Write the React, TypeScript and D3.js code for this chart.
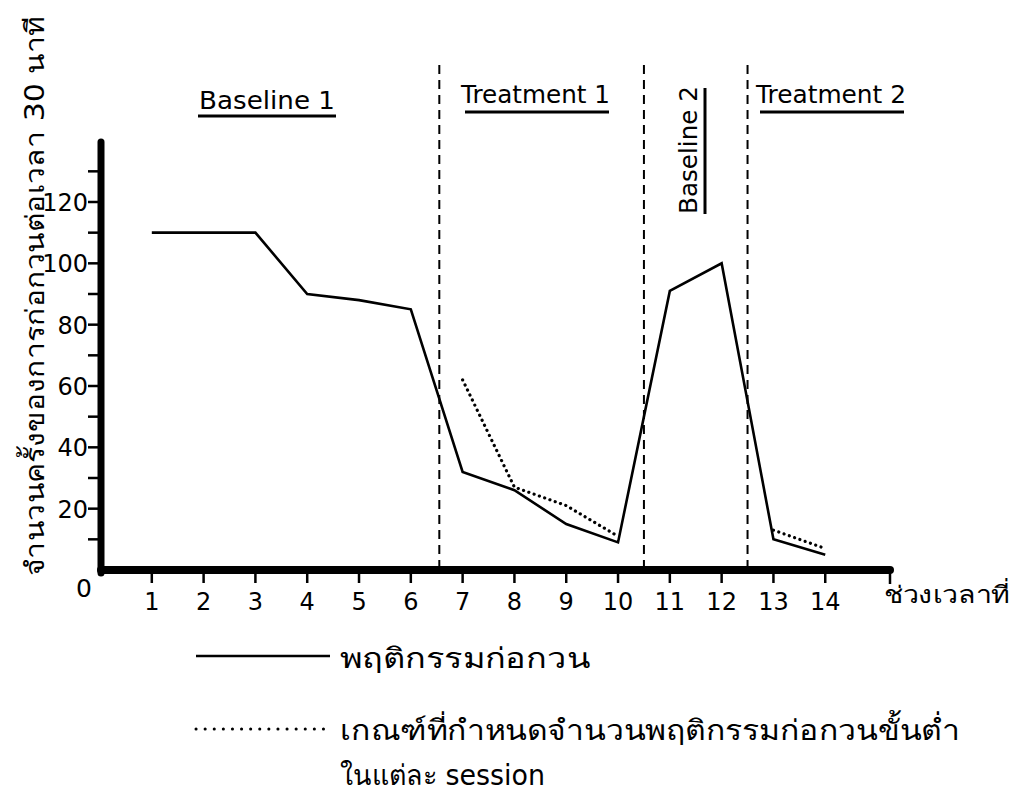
import React from "react";
import * as d3 from "d3";

const sessions = [1, 2, 3, 4, 5, 6, 7, 8, 9, 10, 11, 12, 13, 14];
const behaviour = [110, 110, 110, 90, 88, 85, 32, 26, 15, 9, 91, 100, 10, 5];
const criterionT1Sessions = [7, 8, 9, 10];
const criterionT1 = [62, 27, 21, 11];
const criterionT2Sessions = [13, 14];
const criterionT2 = [13, 7];
const yTicksMajor = [20, 40, 60, 80, 100, 120];
const yTicksMinor = [10, 20, 30, 40, 50, 60, 70, 80, 90, 100, 110, 120, 130];
const phaseBoundaries = [6.55, 10.5, 12.5];
const phaseLabels = ["Baseline 1", "Treatment 1", "Baseline 2", "Treatment 2"];

const W = 1011;
const H = 799;

export default function App() {
  const x = d3.scaleLinear().domain([0, 15.25]).range([100, 890]);
  const y = d3.scaleLinear().domain([0, 120]).range([570, 202]);
  const line = d3
    .line<[number, number]>()
    .x((d) => x(d[0]))
    .y((d) => y(d[1]));
  const solidPts: [number, number][] = sessions.map((s, i) => [s, behaviour[i]]);
  const dot1: [number, number][] = criterionT1Sessions.map((s, i) => [s, criterionT1[i]]);
  const dot2: [number, number][] = criterionT2Sessions.map((s, i) => [s, criterionT2[i]]);
  const font = "'DejaVu Sans', 'Noto Sans', sans-serif";

  return (
    <svg width={W} height={H} style={{ position: "absolute", left: 0, top: 0, background: "#fff" }}>
      <rect x={0} y={0} width={W} height={H} fill="#fff" />
      {/* y axis label */}
      <text
        transform={`translate(44,296) rotate(-90)`}
        textAnchor="middle"
        fontFamily={font}
        fontSize={26}
        textLength={560}
        lengthAdjust="spacingAndGlyphs"
        fill="#000"
      >
        จำนวนครั้งของการก่อกวนต่อเวลา 30 นาที
      </text>

      {/* phase boundaries */}
      {phaseBoundaries.map((b, i) => (
        <line key={i} x1={x(b)} x2={x(b)} y1={65} y2={570} stroke="#000" strokeWidth={2} strokeDasharray="9,6" />
      ))}

      {/* phase labels */}
      <text x={199} y={109} fontFamily={font} fontSize={25} textLength={136} lengthAdjust="spacingAndGlyphs" fill="#000">
        {phaseLabels[0]}
      </text>
      <line x1={198} x2={336} y1={116} y2={116} stroke="#000" strokeWidth={3} />
      <text x={461} y={103} fontFamily={font} fontSize={25} textLength={149} lengthAdjust="spacingAndGlyphs" fill="#000">
        {phaseLabels[1]}
      </text>
      <line x1={465} x2={609} y1={112} y2={112} stroke="#000" strokeWidth={3} />
      <text
        transform={`translate(697,214) rotate(-90)`}
        fontFamily={font}
        fontSize={25}
        textLength={128}
        lengthAdjust="spacingAndGlyphs"
        fill="#000"
      >
        {phaseLabels[2]}
      </text>
      <line x1={705} x2={705} y1={88} y2={214} stroke="#000" strokeWidth={3} />
      <text x={756} y={103} fontFamily={font} fontSize={25} textLength={150} lengthAdjust="spacingAndGlyphs" fill="#000">
        {phaseLabels[3]}
      </text>
      <line x1={760} x2={904} y1={112} y2={112} stroke="#000" strokeWidth={3} />

      {/* y ticks */}
      {yTicksMinor.map((t) => (
        <line key={t} x1={88} x2={100} y1={y(t)} y2={y(t)} stroke="#000" strokeWidth={2.5} />
      ))}
      {yTicksMajor.map((t) => (
        <text key={t} x={88} y={y(t) + 9} textAnchor="end" fontFamily={font} fontSize={24} fill="#000">
          {t}
        </text>
      ))}
      <text x={84} y={597} textAnchor="middle" fontFamily={font} fontSize={25} fill="#000">
        0
      </text>

      {/* x ticks */}
      {sessions.map((s) => (
        <g key={s}>
          <line x1={x(s)} x2={x(s)} y1={570} y2={583} stroke="#000" strokeWidth={2.5} />
          <text x={x(s)} y={610} textAnchor="middle" fontFamily={font} fontSize={24} fill="#000">
            {s}
          </text>
        </g>
      ))}
      <line x1={x(15.25)} x2={x(15.25)} y1={570} y2={584} stroke="#000" strokeWidth={2.5} />
      <text x={884} y={603} fontFamily={font} fontSize={24} textLength={126} lengthAdjust="spacingAndGlyphs" fill="#000">
        ช่วงเวลาที่
      </text>

      {/* axes */}
      <line x1={101} x2={101} y1={142} y2={573} stroke="#000" strokeWidth={7} strokeLinecap="round" />
      <line x1={101} x2={890} y1={570} y2={570} stroke="#000" strokeWidth={8} strokeLinecap="round" />

      {/* data */}
      <path d={line(solidPts) || ""} fill="none" stroke="#000" strokeWidth={2.6} strokeLinejoin="miter" />
      <path d={line(dot1) || ""} fill="none" stroke="#000" strokeWidth={3.2} strokeDasharray="0.1,5.5" strokeLinecap="round" />
      <path d={line(dot2) || ""} fill="none" stroke="#000" strokeWidth={3.2} strokeDasharray="0.1,5.5" strokeLinecap="round" />

      {/* legend */}
      <line x1={196} x2={330} y1={656} y2={656} stroke="#000" strokeWidth={2.6} />
      <text x={340} y={668} fontFamily={font} fontSize={28} textLength={250} lengthAdjust="spacingAndGlyphs" fill="#000">
        พฤติกรรมก่อกวน
      </text>
      <line x1={196} x2={330} y1={729} y2={729} stroke="#000" strokeWidth={3} strokeDasharray="0.1,9" strokeLinecap="round" />
      <text x={340} y={740} fontFamily={font} fontSize={28} textLength={620} lengthAdjust="spacingAndGlyphs" fill="#000">
        เกณฑ์ที่กำหนดจำนวนพฤติกรรมก่อกวนขั้นต่ำ
      </text>
      <text x={340} y={785} fontFamily={font} fontSize={28} textLength={205} lengthAdjust="spacingAndGlyphs" fill="#000">
        ในแต่ละ session
      </text>
    </svg>
  );
}
